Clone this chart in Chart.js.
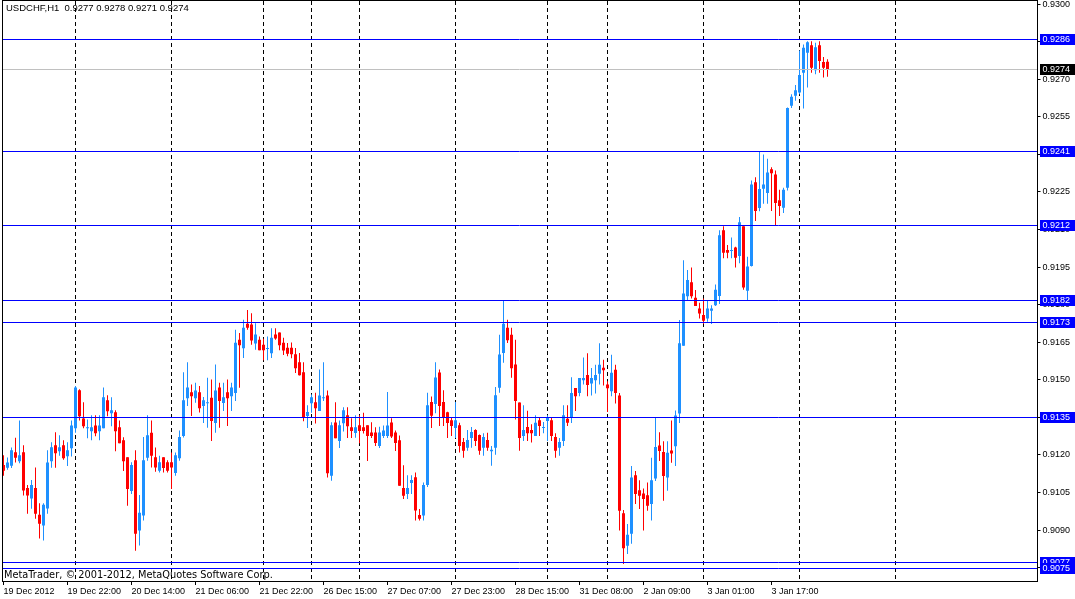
<!DOCTYPE html>
<html>
<head>
<meta charset="utf-8">
<script src="https://cdn.jsdelivr.net/npm/chart.js@4.4.1/dist/chart.umd.min.js"></script>
<style>
  html, body { margin: 0; padding: 0; background: #fff; }
  #wrap { position: relative; width: 1075px; height: 599px; }
</style>
</head>
<body>
<div id="wrap"><canvas id="c"></canvas></div>
<script>
// ---------- DATA ----------
const symbolTitle = 'USDCHF,H1  0.9277 0.9278 0.9271 0.9274';
const copyrightText = 'MetaTrader, \u00A9 2001-2012, MetaQuotes Software Corp.';

const tickLabels = ['19 Dec 2012','19 Dec 22:00','20 Dec 14:00','21 Dec 06:00','21 Dec 22:00','26 Dec 15:00',
  '27 Dec 07:00','27 Dec 23:00','28 Dec 15:00','31 Dec 08:00','2 Jan 09:00','3 Jan 01:00','3 Jan 17:00'];
const tickBars = [0,16,32,48,64,80,96,112,128,144,160,176,192];
const separatorBars = [18,42,65,77,89,113,136,151,175,199,223];
const barSlots = 259;

const opens = [
0.91160,0.91149,0.91157,0.91211,0.91175,0.91211,0.91068,0.91026,0.91068,0.90961,
0.90918,0.90986,0.91175,0.91239,0.91215,0.91239,0.91195,0.91227,0.91307,0.91458,
0.91346,0.91307,0.91295,0.91318,0.91295,0.91307,0.91418,0.91366,0.91370,0.91311,
0.91259,0.91191,0.91056,0.91179,0.90898,0.90958,0.91189,0.91289,0.91191,0.91137,
0.91191,0.91171,0.91171,0.91128,0.91187,0.91276,0.91426,0.91450,0.91426,0.91450,
0.91395,0.91406,0.91428,0.91328,0.91469,0.91407,0.91450,0.91434,0.91447,0.91660,
0.91626,0.91724,0.91721,0.91645,0.91660,0.91640,0.91623,0.91606,0.91681,0.91689,
0.91648,0.91628,0.91628,0.91602,0.91570,0.91530,0.91355,0.91406,0.91410,0.91375,
0.91426,0.91437,0.91117,0.91330,0.91256,0.91327,0.91358,0.91311,0.91288,0.91319,
0.91311,0.91319,0.91290,0.91290,0.91236,0.91276,0.91276,0.91330,0.91290,0.91259,
0.91068,0.91044,0.91088,0.91111,0.90960,0.90958,0.91080,0.91411,0.91403,0.91529,
0.91411,0.91370,0.91339,0.91308,0.91319,0.91252,0.91229,0.91268,0.91300,0.91280,
0.91229,0.91260,0.91215,0.91229,0.91468,0.91607,0.91708,0.91680,0.91561,0.91409,
0.91276,0.91312,0.91300,0.91276,0.91339,0.91308,0.91336,0.91339,0.91272,0.91229,
0.91256,0.91345,0.91348,0.91467,0.91447,0.91498,0.91519,0.91485,0.91498,0.91524,
0.91548,0.91481,0.91454,0.91540,0.91437,0.90967,0.90838,0.90885,0.91119,0.91059,
0.91046,0.91039,0.91004,0.91106,0.91238,0.91212,0.91110,0.91218,0.91235,0.91365,
0.91636,0.91834,0.91889,0.91828,0.91785,0.91759,0.91745,0.91776,0.91798,0.91835,
0.92097,0.92018,0.92014,0.92028,0.91994,0.92113,0.91855,0.91954,0.92289,0.92186,
0.92263,0.92246,0.92341,0.92320,0.92217,0.92187,0.92267,0.92594,0.92634,0.92647,
0.92726,0.92806,0.92836,0.92736,0.92836,0.92769,0.92770];

const highs = [
0.91199,0.91190,0.91230,0.91269,0.91338,0.91239,0.91080,0.91100,0.91150,0.91007,
0.91007,0.91219,0.91251,0.91291,0.91279,0.91259,0.91251,0.91338,0.91475,0.91462,
0.91410,0.91342,0.91358,0.91358,0.91358,0.91469,0.91438,0.91430,0.91378,0.91338,
0.91271,0.91191,0.91171,0.91219,0.91040,0.91272,0.91358,0.91338,0.91230,0.91197,
0.91191,0.91179,0.91210,0.91210,0.91298,0.91530,0.91570,0.91481,0.91488,0.91475,
0.91431,0.91508,0.91501,0.91561,0.91488,0.91488,0.91501,0.91488,0.91700,0.91687,
0.91740,0.91779,0.91766,0.91726,0.91673,0.91664,0.91673,0.91706,0.91706,0.91689,
0.91668,0.91647,0.91649,0.91627,0.91607,0.91570,0.91398,0.91441,0.91448,0.91541,
0.91570,0.91457,0.91331,0.91410,0.91338,0.91390,0.91390,0.91347,0.91358,0.91358,
0.91368,0.91319,0.91331,0.91311,0.91313,0.91318,0.91451,0.91347,0.91298,0.91278,
0.91159,0.91119,0.91119,0.91130,0.90984,0.91090,0.91448,0.91433,0.91570,0.91541,
0.91458,0.91372,0.91350,0.91411,0.91329,0.91268,0.91300,0.91312,0.91303,0.91282,
0.91287,0.91289,0.91236,0.91471,0.91680,0.91819,0.91740,0.91708,0.91660,0.91409,
0.91398,0.91376,0.91323,0.91358,0.91350,0.91332,0.91358,0.91350,0.91287,0.91268,
0.91398,0.91398,0.91510,0.91467,0.91507,0.91589,0.91606,0.91547,0.91560,0.91646,
0.91580,0.91494,0.91600,0.91560,0.91447,0.90980,0.90924,0.91156,0.91136,0.91099,
0.91066,0.91090,0.91189,0.91348,0.91291,0.91255,0.91255,0.91338,0.91377,0.91739,
0.91977,0.91938,0.91948,0.91858,0.91808,0.91825,0.91816,0.91798,0.91880,0.92097,
0.92113,0.92038,0.92068,0.92031,0.92150,0.92113,0.91991,0.92296,0.92309,0.92409,
0.92399,0.92382,0.92349,0.92336,0.92259,0.92267,0.92587,0.92640,0.92677,0.92815,
0.92839,0.92852,0.92852,0.92846,0.92852,0.92789,0.92780];

const lows = [
0.91117,0.91141,0.91148,0.91170,0.91167,0.91038,0.90965,0.90985,0.90945,0.90866,
0.90858,0.90965,0.91149,0.91149,0.91197,0.91181,0.91156,0.91194,0.91289,0.91338,
0.91307,0.91267,0.91259,0.91275,0.91259,0.91307,0.91354,0.91315,0.91215,0.91247,
0.91136,0.90997,0.91044,0.90818,0.90839,0.90938,0.91177,0.91150,0.91133,0.91130,
0.91130,0.91130,0.91064,0.91117,0.91177,0.91270,0.91395,0.91355,0.91408,0.91369,
0.91328,0.91309,0.91256,0.91289,0.91309,0.91375,0.91316,0.91375,0.91415,0.91468,
0.91587,0.91700,0.91640,0.91620,0.91618,0.91578,0.91578,0.91587,0.91660,0.91618,
0.91599,0.91594,0.91586,0.91527,0.91517,0.91335,0.91308,0.91368,0.91326,0.91375,
0.91415,0.91110,0.91097,0.91267,0.91228,0.91294,0.91268,0.91268,0.91269,0.91247,
0.91286,0.91176,0.91268,0.91236,0.91228,0.91268,0.91268,0.91268,0.91216,0.91077,
0.91024,0.91024,0.91044,0.90938,0.90938,0.90938,0.91072,0.91308,0.91366,0.91316,
0.91316,0.91268,0.91276,0.91268,0.91210,0.91189,0.91217,0.91229,0.91236,0.91201,
0.91197,0.91217,0.91157,0.91201,0.91448,0.91568,0.91647,0.91508,0.91342,0.91217,
0.91256,0.91256,0.91250,0.91276,0.91276,0.91287,0.91256,0.91256,0.91189,0.91197,
0.91236,0.91316,0.91328,0.91375,0.91434,0.91481,0.91434,0.91437,0.91445,0.91481,
0.91477,0.91371,0.91434,0.91405,0.90898,0.90765,0.90805,0.90845,0.91004,0.90984,
0.90898,0.90977,0.90938,0.91096,0.91176,0.91017,0.91057,0.91169,0.91156,0.91328,
0.91636,0.91818,0.91825,0.91795,0.91745,0.91723,0.91732,0.91723,0.91795,0.91803,
0.91985,0.91985,0.91985,0.91948,0.91965,0.91859,0.91819,0.91952,0.92134,0.92173,
0.92203,0.92203,0.92174,0.92117,0.92154,0.92166,0.92256,0.92585,0.92614,0.92640,
0.92583,0.92667,0.92726,0.92720,0.92726,0.92707,0.92710];

const closes = [
0.91137,0.91170,0.91219,0.91189,0.91199,0.91058,0.91038,0.91080,0.90965,0.90925,
0.91001,0.91170,0.91231,0.91207,0.91231,0.91187,0.91219,0.91318,0.91469,0.91354,
0.91315,0.91311,0.91311,0.91287,0.91318,0.91430,0.91374,0.91378,0.91295,0.91247,
0.91175,0.91064,0.91160,0.90885,0.90969,0.91179,0.91279,0.91197,0.91150,0.91171,
0.91148,0.91137,0.91150,0.91199,0.91272,0.91418,0.91469,0.91434,0.91457,0.91386,
0.91418,0.91410,0.91336,0.91457,0.91415,0.91430,0.91426,0.91469,0.91648,0.91638,
0.91708,0.91708,0.91657,0.91681,0.91618,0.91618,0.91627,0.91668,0.91665,0.91638,
0.91617,0.91604,0.91602,0.91546,0.91518,0.91351,0.91371,0.91430,0.91386,0.91437,
0.91430,0.91127,0.91319,0.91267,0.91319,0.91378,0.91315,0.91296,0.91311,0.91296,
0.91296,0.91276,0.91276,0.91248,0.91290,0.91298,0.91318,0.91274,0.91248,0.91077,
0.91037,0.91068,0.91100,0.90978,0.90945,0.91080,0.91398,0.91356,0.91509,0.91395,
0.91350,0.91328,0.91316,0.91339,0.91236,0.91217,0.91260,0.91292,0.91256,0.91217,
0.91272,0.91229,0.91221,0.91438,0.91601,0.91724,0.91658,0.91546,0.91415,0.91268,
0.91300,0.91287,0.91287,0.91329,0.91316,0.91312,0.91350,0.91276,0.91217,0.91252,
0.91358,0.91329,0.91447,0.91434,0.91507,0.91507,0.91479,0.91507,0.91519,0.91560,
0.91538,0.91466,0.91528,0.91447,0.90977,0.90828,0.90881,0.91110,0.91044,0.91037,
0.91024,0.90997,0.91099,0.91232,0.91216,0.91116,0.91209,0.91206,0.91357,0.91646,
0.91845,0.91898,0.91834,0.91795,0.91765,0.91736,0.91785,0.91785,0.91859,0.92077,
0.92007,0.92007,0.92018,0.91987,0.92129,0.91868,0.91952,0.92280,0.92174,0.92262,
0.92280,0.92328,0.92325,0.92206,0.92194,0.92259,0.92585,0.92630,0.92656,0.92717,
0.92826,0.92848,0.92746,0.92828,0.92773,0.92746,0.92740];

const levelLines = [0.92859, 0.92413, 0.92117, 0.91817, 0.91727, 0.91348, 0.90770, 0.90748];
const levelLabels = ['0.9286','0.9241','0.9212','0.9182','0.9173','0.9135','0.9077','0.9075'];
const currentPrice = 0.9274;
const yTicks = [0.9300,0.9285,0.9270,0.9255,0.9240,0.9225,0.9210,0.9195,0.9180,0.9165,0.9150,0.9135,0.9120,0.9105,0.9090,0.9075];
const yMin = 0.906928, yMax = 0.930162;

// ---------- STYLE ----------
const BULL = '#1E90FF', BEAR = '#FF0000', LEVEL = '#0000FF', GRAYLINE = '#C0C0C0';
const AXFONT = 'Liberation Sans';
const FONT = 'DejaVu Sans';

const categories = Array.from({length: barSlots}, (_, i) => String(i));
const candleColors = opens.map((o, i) => closes[i] >= o ? BULL : BEAR);
const wickData = highs.map((h, i) => [lows[i], h]);
const bodyData = opens.map((o, i) => [o, closes[i]]);

const mtChrome = {
  id: 'mtChrome',
  beforeDatasetsDraw(chart) {
    const {ctx, chartArea: a, scales: {x}} = chart;
    ctx.save();
    ctx.strokeStyle = '#000';
    ctx.lineWidth = 1;
    ctx.setLineDash([4, 3]);
    separatorBars.forEach(i => {
      const px = Math.floor(x.getPixelForValue(i)) + 0.5;
      ctx.beginPath();
      ctx.moveTo(px, a.top + 1);
      ctx.lineTo(px, a.bottom);
      ctx.stroke();
    });
    ctx.restore();
  },
  afterDatasetsDraw(chart) {
    const {ctx, scales: {y}} = chart;
    ctx.save();
    ctx.lineWidth = 1;
    ctx.strokeStyle = GRAYLINE;
    const py = Math.floor(y.getPixelForValue(currentPrice)) + 0.5;
    ctx.beginPath(); ctx.moveTo(2, py); ctx.lineTo(1037, py); ctx.stroke();
    ctx.strokeStyle = LEVEL;
    levelLines.forEach(v => {
      const p = Math.floor(y.getPixelForValue(v)) + 0.5;
      ctx.beginPath(); ctx.moveTo(2, p); ctx.lineTo(1037, p); ctx.stroke();
    });
    ctx.restore();
  },
  afterDraw(chart) {
    const {ctx, scales: {y}} = chart;
    ctx.save();
    // frame
    ctx.strokeStyle = '#000';
    ctx.lineWidth = 1;
    ctx.strokeRect(2.5, 0.5, 1035, 581);
    // price boxes on the axis
    ctx.font = '9px "' + AXFONT + '"';
    ctx.textBaseline = 'middle';
    ctx.textAlign = 'left';
    const box = (v, txt, bg) => {
      const p = Math.floor(y.getPixelForValue(v)) + 0.5;
      ctx.fillStyle = bg;
      ctx.fillRect(1040, Math.round(p - 5.5), 35, 11);
      ctx.fillStyle = '#fff';
      ctx.fillText(txt, 1042.5, p);
    };
    levelLines.forEach((v, i) => box(v, levelLabels[i], LEVEL));
    box(currentPrice, currentPrice.toFixed(4), '#000');
    // title and copyright
    ctx.fillStyle = '#000';
    ctx.font = '9.5px "' + AXFONT + '"';
    ctx.fillText(symbolTitle, 6, 8);
    ctx.font = '9.8px "' + FONT + '"';
    ctx.fillText(copyrightText, 4, 575.5);
    ctx.restore();
  }
};

new Chart(document.getElementById('c'), {
  type: 'bar',
  data: {
    labels: categories,
    datasets: [
      { data: wickData, backgroundColor: candleColors, barThickness: 1, grouped: false,
        inflateAmount: 0, borderWidth: 0, order: 2 },
      { data: bodyData, backgroundColor: candleColors, barThickness: 3, grouped: false,
        minBarLength: 1, inflateAmount: 0, borderWidth: 0, order: 1 }
    ]
  },
  options: {
    responsive: true,
    maintainAspectRatio: false,
    animation: false,
    layout: { padding: { left: 1.5, top: 0, right: 0, bottom: 0 } },
    plugins: { legend: { display: false }, tooltip: { enabled: false }, title: { display: false } },
    scales: {
      x: {
        type: 'category',
        offset: true,
        grid: {
          offset: false, drawOnChartArea: false, drawTicks: true, tickLength: 3,
          tickColor: c => tickBars.includes(c.index) ? '#000' : 'rgba(0,0,0,0)'
        },
        border: { display: false },
        ticks: {
          autoSkip: false, maxRotation: 0, minRotation: 0, align: 'start', padding: 1,
          color: '#000', font: { family: AXFONT, size: 9 },
          callback: (v, i) => { const k = tickBars.indexOf(i); return k >= 0 ? tickLabels[k] : ''; }
        },
        afterFit: s => { s.height = 17; s.paddingLeft = 0; s.paddingRight = 0; }
      },
      y: {
        type: 'linear',
        position: 'right',
        min: yMin,
        max: yMax,
        afterBuildTicks: s => { s.ticks = yTicks.map(v => ({ value: v })); },
        grid: { drawOnChartArea: false, drawTicks: true, tickLength: 3, tickColor: '#000' },
        border: { display: false },
        ticks: {
          padding: 2, color: '#000', font: { family: AXFONT, size: 9 },
          callback: v => Number(v).toFixed(4)
        },
        afterFit: s => { s.width = 37.5; s.paddingTop = 0; s.paddingBottom = 0; }
      }
    }
  },
  plugins: [mtChrome]
});
</script>
</body>
</html>
